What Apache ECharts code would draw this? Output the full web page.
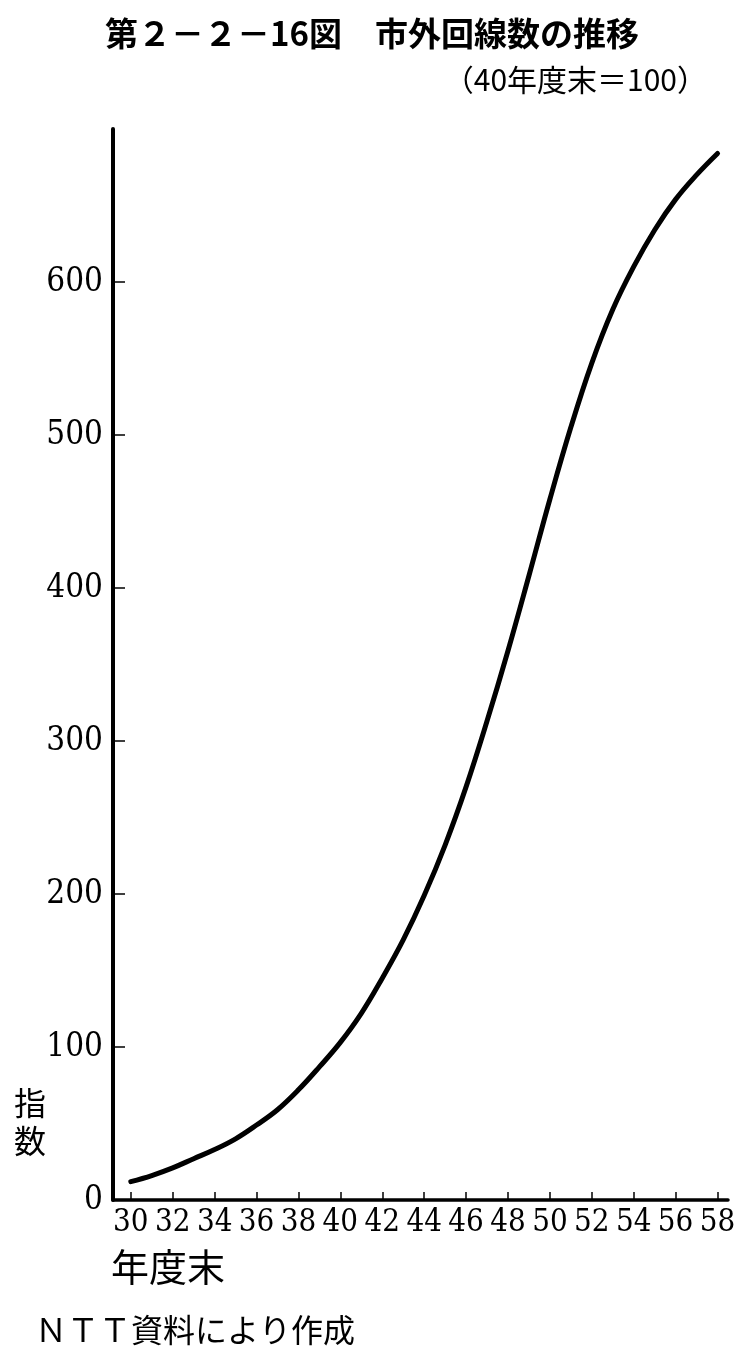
<!DOCTYPE html>
<html><head><meta charset="utf-8">
<script src="https://cdn.jsdelivr.net/npm/echarts@6/dist/echarts.min.js"></script>
<style>html,body{margin:0;padding:0;background:#fff}#c{width:745px;height:1369px}</style>
</head><body><div id="c"></div>
<script>
// 年度末 (昭和)
const years = [30,31,32,33,34,35,36,37,38,39,40,41,42,43,44,45,46,47,48,49,50,51,52,53,54,55,56,57,58];
// 市外回線数 指数 (40年度末=100)
const indexValues = [12,16,21,27,33,40,49,59,72,87,103,122,145,170,199,232,270,313,359,408,458,505,547,582,610,634,654,670,684];
const xTickLabels = [30,32,34,36,38,40,42,44,46,48,50,52,54,56,58];
const yTickLabels = [0,100,200,300,400,500,600];

const titleText = '第２－２－16図　市外回線数の推移';
const subText = '（40年度末＝100）';
const yName = '指\n数';
const xName = '年度末';
const sourceText = 'ＮＴＴ資料により作成';

const chart = echarts.init(document.getElementById('c'));
const numFont = "'DejaVu Serif Condensed','Liberation Serif',serif";
chart.setOption({
  backgroundColor: '#fff',
  animation: false,
  title: [
    { text: titleText, left: 367, top: 12, textAlign: 'center',
      textStyle: { fontFamily: "'Noto Sans CJK JP'", fontWeight: 'bold', fontSize: 33, color: '#000' } },
    { text: subText, right: 33, top: 60,
      textStyle: { fontFamily: "'Noto Sans CJK JP'", fontWeight: 'normal', fontSize: 30, color: '#000' } }
  ],
  grid: { left: 113, right: 17, top: 129, bottom: 169 },
  xAxis: {
    type: 'value', min: 29.15, max: 58.5,
    axisLine: { show: true, lineStyle: { color: '#000', width: 3.5 } },
    axisTick: { show: true, inside: true, length: 8, lineStyle: { color: '#000', width: 1.5 }, customValues: xTickLabels },
    axisLabel: { show: true, customValues: xTickLabels, margin: 7, color: '#000', fontSize: 31, fontFamily: numFont },
    splitLine: { show: false }
  },
  yAxis: {
    type: 'value', min: 0, max: 700,
    axisLine: { show: true, lineStyle: { color: '#000', width: 4 } },
    axisTick: { show: true, inside: true, length: 12, lineStyle: { color: '#000', width: 1.5 }, customValues: yTickLabels },
    axisLabel: { show: true, customValues: yTickLabels, margin: 10, color: '#000', fontSize: 33, fontFamily: numFont },
    splitLine: { show: false }
  },
  graphic: [
    { type: 'text', left: 14, top: 1084, style: { text: yName, font: "32px 'Noto Sans CJK JP'", fill: '#000', lineHeight: 38 } },
    { type: 'text', left: 111, top: 1248, style: { text: xName, font: "38px 'Noto Sans CJK JP'", fill: '#000' } },
    { type: 'text', left: 35, top: 1314, style: { text: sourceText, font: "32px 'Noto Sans CJK JP'", fill: '#000' } }
  ],
  series: [{
    type: 'line',
    data: years.map((y, i) => [y, indexValues[i]]),
    smooth: 0.4,
    symbol: 'none',
    lineStyle: { color: '#000', width: 5, cap: 'round' }
  }]
});
</script>
</body></html>
